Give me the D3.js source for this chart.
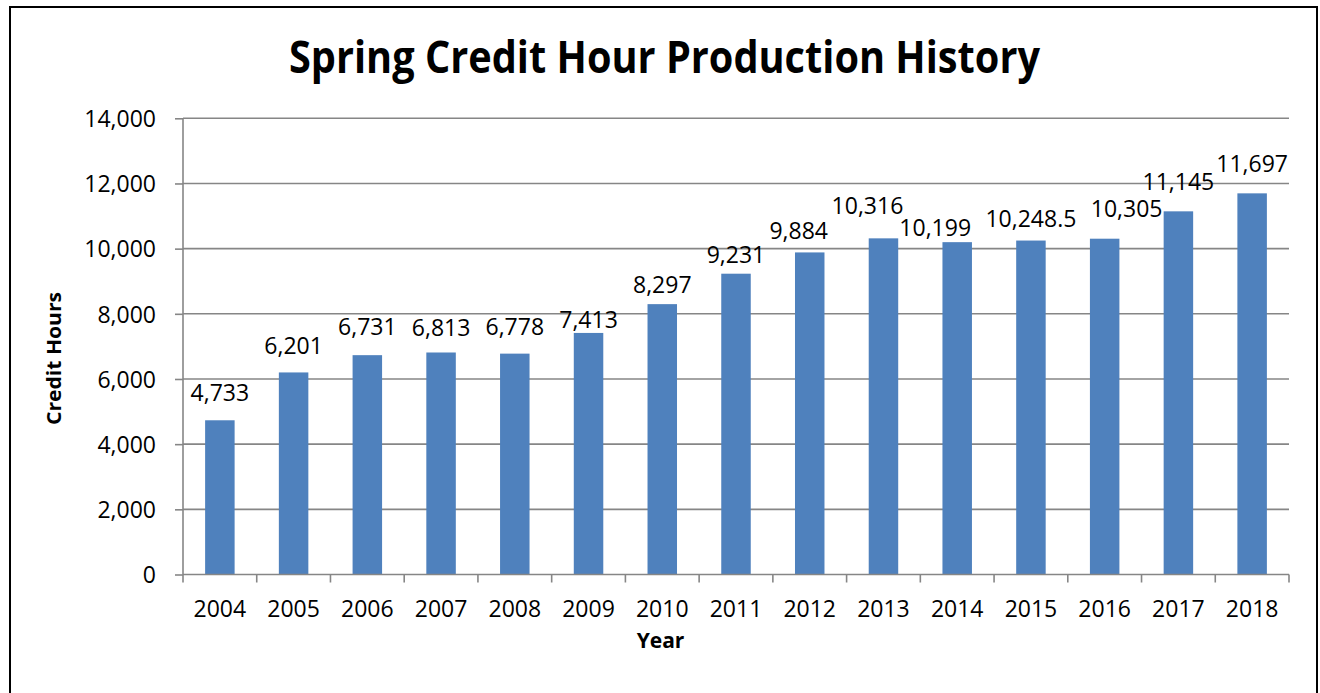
<!DOCTYPE html>
<html>
<head>
<meta charset="utf-8">
<script src="https://cdn.jsdelivr.net/npm/d3@7"></script>
<style>
  body { margin: 0; background: #fff; }
  text { font-family: "Open Sans", "Liberation Sans", sans-serif; fill: #000; }
</style>
</head>
<body>
<script>
// Chart data
const years = ["2004", "2005", "2006", "2007", "2008", "2009", "2010", "2011", "2012", "2013", "2014", "2015", "2016", "2017", "2018"];
const creditHours = [4733, 6201, 6731, 6813, 6778, 7413, 8297, 9231, 9884, 10316, 10199, 10248.5, 10305, 11145, 11697];
const yTicks = [0, 2000, 4000, 6000, 8000, 10000, 12000, 14000];

// Hand nudges for the value labels (px), like the moved labels in the original
const labelNudge = [[0, 0], [0, 1], [0, -1], [0, 3], [0, 0], [0, 14], [0, 8], [0, 8], [-11, 6], [-16, -5], [-22, 13], [0, 5], [22, -3], [0, -2], [0, -2]];

const w = 1320;
const h = 693;

const svg = d3.select("body").append("svg").attr("width", w).attr("height", h);

// Outer chart border
svg.append("rect")
  .attr("x", 10).attr("y", 7)
  .attr("width", 1307).attr("height", 720)
  .attr("fill", "#fff")
  .attr("stroke", "#000")
  .attr("stroke-width", 2);

// Scales
const xScale = d3.scaleBand()
  .domain(years)
  .range([183, 1289])
  .paddingInner(0.6)
  .paddingOuter(0.3);

const yScale = d3.scaleLinear()
  .domain([0, 14000])
  .range([574.5, 118.3]);

const fmt = d3.format(",");

// Gridlines
svg.append("g")
  .selectAll("line")
  .data(yTicks.slice(1))
  .enter()
  .append("line")
  .attr("x1", 183).attr("x2", 1289)
  .attr("y1", (d) => yScale(d)).attr("y2", (d) => yScale(d))
  .attr("stroke", "#868686")
  .attr("stroke-width", 1.6);

// Bars
svg.append("g")
  .selectAll("rect")
  .data(creditHours)
  .enter()
  .append("rect")
  .attr("x", (d, i) => xScale(years[i]))
  .attr("y", (d) => yScale(d))
  .attr("width", xScale.bandwidth())
  .attr("height", (d) => yScale(0) - yScale(d))
  .attr("fill", "#4f81bd");

// Y axis
const yAxis = d3.axisLeft(yScale)
  .tickValues(yTicks)
  .tickFormat(fmt)
  .tickSize(8)
  .tickPadding(19);

const yG = svg.append("g")
  .attr("transform", "translate(183,0)")
  .call(yAxis);
yG.select(".domain").attr("stroke", "#868686").attr("stroke-width", 1.6).attr("d", "M0," + yScale(14000) + "V" + yScale(0));
yG.selectAll(".tick line").attr("stroke", "#868686").attr("stroke-width", 1.6);
yG.selectAll(".tick text")
  .attr("font-size", "23px")
  .attr("font-family", "Open Sans")
  .attr("fill", "#000")
  .attr("dy", "0.36em");

// X axis: ticks sit between the categories
const xG = svg.append("g").attr("transform", "translate(0," + yScale(0) + ")");
xG.append("line")
  .attr("x1", 183).attr("x2", 1289)
  .attr("stroke", "#868686").attr("stroke-width", 1.6);
xG.selectAll("line.sep")
  .data(d3.range(years.length + 1))
  .enter()
  .append("line")
  .attr("class", "sep")
  .attr("x1", (i) => 183 + i * xScale.step())
  .attr("x2", (i) => 183 + i * xScale.step())
  .attr("y1", 0).attr("y2", 8)
  .attr("stroke", "#868686").attr("stroke-width", 1.6);
xG.selectAll("text")
  .data(years)
  .enter()
  .append("text")
  .attr("x", (d) => xScale(d) + xScale.bandwidth() / 2)
  .attr("y", 42)
  .attr("text-anchor", "middle")
  .attr("font-size", "23px")
  .text((d) => d);

// Value labels
svg.append("g")
  .selectAll("text")
  .data(creditHours)
  .enter()
  .append("text")
  .attr("x", (d, i) => xScale(years[i]) + xScale.bandwidth() / 2 + labelNudge[i][0])
  .attr("y", (d, i) => yScale(d) - 19 + labelNudge[i][1])
  .attr("text-anchor", "middle")
  .attr("font-size", "23px")
  .text((d) => fmt(d));

// Title
svg.append("text")
  .attr("x", 664.5)
  .attr("y", 73)
  .attr("text-anchor", "middle")
  .attr("font-size", "45px")
  .attr("font-weight", "bold")
  .attr("textLength", 751)
  .attr("lengthAdjust", "spacingAndGlyphs")
  .text("Spring Credit Hour Production History");

// Axis titles
svg.append("text")
  .attr("transform", "translate(61,358.5) rotate(-90)")
  .attr("text-anchor", "middle")
  .attr("font-size", "19px")
  .attr("font-weight", "bold")
  .attr("textLength", 133)
  .attr("lengthAdjust", "spacingAndGlyphs")
  .text("Credit Hours");

svg.append("text")
  .attr("x", 660.5)
  .attr("y", 648)
  .attr("text-anchor", "middle")
  .attr("font-size", "21px")
  .attr("font-weight", "bold")
  .text("Year");
</script>
</body>
</html>
